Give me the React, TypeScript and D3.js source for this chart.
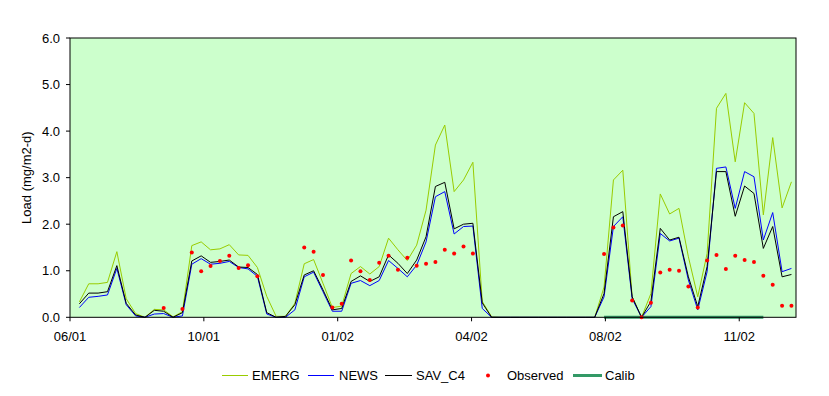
import React from 'react';
import * as d3 from 'd3';

// weekly samples, first one a week after the axis start
const emerg = [
  0.33, 0.72, 0.72, 0.75, 1.41, 0.40, 0.08, 0.00, 0.17, 0.16,
  0.01, 0.12, 1.54, 1.62, 1.45, 1.47, 1.56, 1.34, 1.33, 1.07,
  0.45, 0.02, 0.02, 0.30, 1.15, 1.24, 0.73, 0.21, 0.24, 0.94,
  1.09, 0.93, 1.09, 1.70, 1.45, 1.22, 1.55, 2.30, 3.70, 4.13,
  2.70, 2.95, 3.33, 0.34, 0.01, 0, 0, 0, 0, 0,
  0, 0, 0, 0, 0, 0, 0.65, 2.95, 3.16, 0.44,
  0.00, 0.51, 2.65, 2.22, 2.34, 1.30, 0.44, 1.37, 4.49, 4.81,
  3.34, 4.61, 4.38, 2.20, 3.86, 2.35, 2.91,
];

const news = [
  0.21, 0.43, 0.45, 0.48, 1.05, 0.27, 0.03, 0.00, 0.07, 0.08,
  0.00, 0.03, 1.14, 1.26, 1.14, 1.16, 1.20, 1.07, 1.04, 0.88,
  0.07, 0.00, 0.00, 0.16, 0.87, 0.97, 0.55, 0.13, 0.13, 0.73,
  0.79, 0.68, 0.79, 1.22, 1.05, 0.87, 1.12, 1.62, 2.59, 2.70,
  1.79, 1.95, 1.96, 0.19, 0, 0, 0, 0, 0, 0,
  0, 0, 0, 0, 0, 0, 0.44, 1.95, 2.16, 0.40,
  0.00, 0.23, 1.80, 1.64, 1.70, 0.80, 0.16, 0.98, 3.20, 3.23,
  2.34, 3.13, 3.02, 1.66, 2.25, 0.98, 1.05,
];

const savC4 = [
  0.29, 0.52, 0.52, 0.55, 1.11, 0.30, 0.05, 0.00, 0.15, 0.13,
  0.00, 0.10, 1.21, 1.32, 1.18, 1.20, 1.23, 1.08, 1.07, 0.92,
  0.10, 0.00, 0.02, 0.27, 0.91, 1.00, 0.59, 0.16, 0.19, 0.77,
  0.89, 0.77, 0.87, 1.34, 1.16, 0.94, 1.23, 1.73, 2.81, 2.90,
  1.90, 2.00, 2.02, 0.31, 0, 0, 0, 0, 0, 0,
  0, 0, 0, 0, 0, 0, 0.51, 2.16, 2.27, 0.44,
  0.00, 0.34, 1.91, 1.66, 1.72, 0.87, 0.23, 1.09, 3.13, 3.13,
  2.17, 2.82, 2.66, 1.48, 1.95, 0.87, 0.92,
];

const observed = [
  null, null, null, null, null, null, null, null, null, 0.20,
  null, 0.18, 1.39, 0.99, 1.10, 1.21, 1.32, 1.06, 1.12, 0.88,
  null, null, null, null, 1.50, 1.41, 0.91, 0.21, 0.29, 1.22,
  0.99, 0.80, 1.17, 1.32, 1.02, 1.28, 1.11, 1.15, 1.19, 1.45,
  1.37, 1.52, 1.37, null, null, null, null, null, null, null,
  null, null, null, null, null, null, 1.36, 1.93, 1.97, 0.36,
  0.00, 0.31, 0.96, 1.02, 1.00, 0.66, 0.21, 1.22, 1.34, 1.04,
  1.32, 1.23, 1.19, 0.89, 0.70, 0.25, 0.25,
];

const calib = [
  null, null, null, null, null, null, null, null, null, null,
  null, null, null, null, null, null, null, null, null, null,
  null, null, null, null, null, null, null, null, null, null,
  null, null, null, null, null, null, null, null, null, null,
  null, null, null, null, null, null, null, null, null, null,
  null, null, null, null, null, null, 0, 0, 0, 0,
  0, 0, 0, 0, 0, 0, 0, 0, 0, 0,
  0, 0, 0, 0, null, null, null,
];

const axisStart = '2001-06-28';
const axisDays = 542.4;
const tickDates = ['2001-06-28', '2001-10-06', '2002-01-14', '2002-04-24', '2002-08-02', '2002-11-10'];
const yTicks = [0, 1, 2, 3, 4, 5, 6];

const width = 829;
const height = 396;
const left = 70, right = 796, top = 38, bottom = 317.3;
const font = '"Liberation Sans", Arial, sans-serif';

export default function App() {
  const start = new Date(axisStart + 'T00:00:00Z');
  const end = new Date(start.getTime() + axisDays * 864e5);
  const x = d3.scaleUtc().domain([start, end]).range([left, right]);
  const y = d3.scaleLinear().domain([0, 6]).range([bottom, top]);
  const dates = emerg.map((_, i) => d3.utcDay.offset(start, 7 * (i + 1)));
  const fmt = d3.utcFormat('%m/%y');

  const line = d3.line<number | null>()
    .defined(d => d !== null)
    .x((_, i) => x(dates[i]))
    .y(d => y(d as number));

  const series = [
    { name: 'EMERG', values: emerg, color: '#99cc00' },
    { name: 'NEWS', values: news, color: '#0000ff' },
    { name: 'SAV_C4', values: savC4, color: '#000000' },
  ];

  const legendY = 375.5;

  return (
    <svg width={width} height={height} style={{ position: 'absolute', left: 0, top: 0, background: '#fff' }}
      fontFamily={font} fontSize={13}>
      <rect x={left} y={top} width={right - left} height={bottom - top} fill="#ccffcc" />

      {series.map(s => (
        <path key={s.name} d={line(s.values) || ''} fill="none" stroke={s.color} strokeWidth={1} />
      ))}

      <path d={line(calib) || ''} fill="none" stroke="#339966" strokeWidth={3} />

      {observed.map((v, i) => v === null ? null : (
        <circle key={i} cx={x(dates[i])} cy={y(v)} r={2} fill="#ff0000" />
      ))}

      <rect x={left} y={top} width={right - left} height={bottom - top} fill="none" stroke="#000" strokeWidth={1} />

      {yTicks.map(t => (
        <g key={t}>
          <line x1={left - 4} x2={left} y1={y(t)} y2={y(t)} stroke="#000" />
          <text x={60} y={y(t)} dy="0.35em" textAnchor="end">{t.toFixed(1)}</text>
        </g>
      ))}

      {tickDates.map(t => {
        const d = new Date(t + 'T00:00:00Z');
        return (
          <g key={t}>
            <line x1={x(d)} x2={x(d)} y1={bottom} y2={bottom + 4} stroke="#000" />
            <text x={x(d)} y={341} textAnchor="middle">{fmt(d)}</text>
          </g>
        );
      })}

      <text transform={`translate(31,${(top + bottom) / 2}) rotate(-90)`} textAnchor="middle">Load (mg/m2-d)</text>

      <g>
        <line x1={222} x2={248} y1={legendY} y2={legendY} stroke="#99cc00" />
        <text x={252} y={legendY} dy="0.35em">EMERG</text>
        <line x1={308} x2={334} y1={legendY} y2={legendY} stroke="#0000ff" />
        <text x={339} y={legendY} dy="0.35em">NEWS</text>
        <line x1={385} x2={412} y1={legendY} y2={legendY} stroke="#000" />
        <text x={416} y={legendY} dy="0.35em">SAV_C4</text>
        <circle cx={488} cy={legendY} r={2} fill="#ff0000" />
        <text x={507} y={legendY} dy="0.35em">Observed</text>
        <line x1={573} x2={602} y1={legendY} y2={legendY} stroke="#339966" strokeWidth={3} />
        <text x={605} y={legendY} dy="0.35em">Calib</text>
      </g>
    </svg>
  );
}
